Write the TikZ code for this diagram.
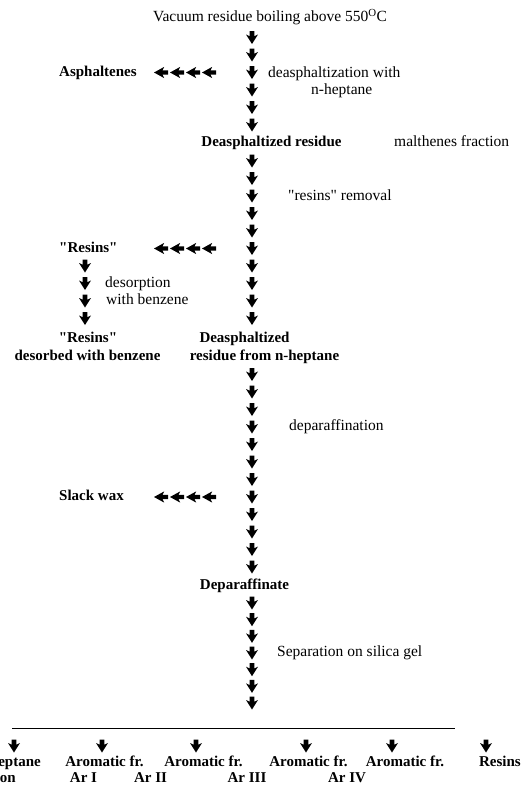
\documentclass[tikz,border=0pt]{standalone}
\usepackage{fontspec}
\setmainfont{Liberation Serif}
\begin{document}
\begin{tikzpicture}[x=1pt,y=-1pt,
  reg/.style={font=\fontsize{15.5}{18}\selectfont, inner sep=0pt, yshift=-1.5pt},
  bld/.style={font=\fontsize{15}{18}\selectfont\bfseries, inner sep=0pt, yshift=-1.5pt},
  darr/.pic={\fill[black] (-2.3,-6.5) -- (2.3,-6.5) -- (2.3,-1.2) -- (6,-3) -- (0,6.5) -- (-6,-3) -- (-2.3,-1.2) -- cycle;},
  larr/.pic={\fill[black] (7,-2.2) -- (7,2.2) -- (1.6,2.2) -- (3.2,5.6) -- (-7,0) -- (3.2,-5.6) -- (1.6,-2.2) -- cycle;},
]
\useasboundingbox (0,0) rectangle (523,787);
\clip (0,0) rectangle (523,787);
\fill[white] (0,0) rectangle (523,787);

% main column arrows
\foreach \y in {37.5,55,72.5,90,107.5,125} \pic at (252,\y) {darr};
\foreach \y in {161,178.5,196,213.5,231,248.5,266,283.5,301,318.5} \pic at (252,\y) {darr};
\foreach \y in {374.5,392,409.5,427,444.5,462,479.5,497,514.5,532,549.5,567} \pic at (252,\y) {darr};
\foreach \y in {603,619.7,636.3,653,669.7,686.3,703} \pic at (252,\y) {darr};

% side arrows
\foreach \x in {161,177,193,209} {
  \pic at (\x,72.5) {larr};
  \pic at (\x,248.5) {larr};
  \pic at (\x,497) {larr};
}
\foreach \y in {266,283.5,301,318.5} \pic at (85,\y) {darr};

% texts
\node[reg, anchor=mid] (title) at (270,18) {Vacuum residue boiling above 550\textsuperscript{O}C};
\node[bld, anchor=mid west] (asph) at (59,72.5) {Asphaltenes};
\node[reg, anchor=mid west] (deas1) at (268,74) {deasphaltization with};
\node[reg, anchor=mid west] (deas2) at (311,90.5) {n-heptane};
\node[bld, anchor=mid] (dr) at (271.5,143) {Deasphaltized residue};
\node[reg, anchor=mid west] (malt) at (394,143) {malthenes fraction};
\node[reg, anchor=mid west] (resrem) at (288,197) {\textquotedbl resins\textquotedbl{} removal};
\node[bld, anchor=mid west] (res1) at (59,249) {\textquotedbl Resins\textquotedbl};
\node[reg, anchor=mid west] (desorp) at (105,283.5) {desorption};
\node[reg, anchor=mid west] (wb) at (106,301) {with benzene};
\node[bld, anchor=mid] (res2) at (88,339) {\textquotedbl Resins\textquotedbl};
\node[bld, anchor=mid] (desb) at (87.5,357) {desorbed with benzene};
\node[bld, anchor=mid] (dah) at (244.5,339) {Deasphaltized};
\node[bld, anchor=mid] (rfh) at (264.5,357) {residue from n-heptane};
\node[reg, anchor=mid west] (depar) at (289,427) {deparaffination};
\node[bld, anchor=mid west] (slack) at (59,497) {Slack wax};
\node[bld, anchor=mid] (dpf) at (244.5,586) {Deparaffinate};
\node[reg, anchor=mid west] (sep) at (277,653) {Separation on silica gel};

% separation line
\coordinate (lineL) at (12,728);
\coordinate (lineR) at (455,728);
\draw[line width=0.8pt] (lineL) -- (lineR);

% bottom arrows and labels
\foreach \x in {14,102,196,306,392,486} \pic at (\x,746) {darr};
\node[bld, anchor=mid east] (hep) at (41,763) {Heptane};
\node[bld, anchor=mid east] (frac) at (16,778.5) {fraction};
\node[bld, anchor=mid] (ar1) at (104.5,763) {Aromatic fr.};
\node[bld, anchor=mid] (ar2) at (203.5,763) {Aromatic fr.};
\node[bld, anchor=mid] (ar3) at (308.5,763) {Aromatic fr.};
\node[bld, anchor=mid] (ar4) at (405,763) {Aromatic fr.};
\node[bld, anchor=mid east] (resb) at (521,763) {Resins};
\node[bld, anchor=mid] (ari) at (83.5,778.5) {Ar I};
\node[bld, anchor=mid] (arii) at (150.5,778.5) {Ar II};
\node[bld, anchor=mid] (ariii) at (247,778.5) {Ar III};
\node[bld, anchor=mid] (ariv) at (347,778.5) {Ar IV};
\end{tikzpicture}
\end{document}
